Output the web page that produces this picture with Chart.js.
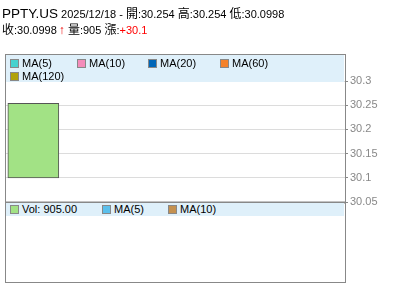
<!DOCTYPE html>
<html><head><meta charset="utf-8">
<script src="https://cdn.jsdelivr.net/npm/chart.js@4"></script>
<style>
html,body{margin:0;padding:0;background:#fff;}
body{width:400px;height:301px;position:relative;overflow:hidden;font-family:"Liberation Sans",Arial,sans-serif;}
canvas{position:absolute;left:0;top:0;}
.t{position:absolute;left:2px;white-space:nowrap;color:#000;font-size:11px;}
.cjk{font-family:"Noto Sans CJK TC","Liberation Sans",sans-serif;font-size:12px;}
.leg{position:absolute;left:6px;width:338px;background:#dff0fa;font-size:11px;color:#000;}
.item{position:absolute;height:13px;line-height:13px;white-space:nowrap;}
.box{display:inline-block;width:7px;height:7px;border:1px solid #888;vertical-align:-1px;margin-right:3px;}
</style></head>
<body>
<canvas id="c" width="400" height="301"></canvas>
<div class="t" id="l1" style="top:4px"></div>
<div class="t" id="l2" style="top:20px"></div>
<div class="leg" id="mainLeg" style="top:55px;height:27px"></div>
<div class="leg" id="volLeg" style="top:203px;height:13px"></div>
<script>
const symbol = 'PPTY.US';
const dates = ['2025/12/18'];
const openVals = [30.254];
const highVals = [30.254];
const lowVals = [30.0998];
const closeVals = [30.0998];
const volumes = [905];
const change = '+30.1';
const yTicks = [30.05, 30.1, 30.15, 30.2, 30.25, 30.3];
const maLabels = ['MA(5)', 'MA(10)', 'MA(20)', 'MA(60)', 'MA(120)'];
const maColors = ['#46d2cf', '#f48cba', '#0066b8', '#f5822a', '#b0a20a'];
const volLabels = ['Vol: 905.00', 'MA(5)', 'MA(10)'];
const volColors = ['#a2e285', '#5bc0ec', '#c49150'];

const f = v => String(v);
document.getElementById('l1').innerHTML =
  '<span style="font-size:13.5px">' + symbol + '</span> ' + dates[0] + ' - <span class="cjk">開</span>:' + f(openVals[0]) +
  ' <span class="cjk">高</span>:' + f(highVals[0]) + ' <span class="cjk">低</span>:' + f(lowVals[0]);
document.getElementById('l2').innerHTML =
  '<span class="cjk">收</span>:' + f(closeVals[0]) + '<span style="color:#e00;font-size:12px;margin:0 0 0 2px">↑</span> <span class="cjk">量</span>:' + volumes[0] +
  ' <span class="cjk">漲</span>:<span style="color:#f00">' + change + '</span>';

const mainPos = [[4,2],[71,2],[142,2],[214,2],[4,15]];
const ml = document.getElementById('mainLeg');
maLabels.forEach((l,i)=>{
  const d=document.createElement('div');d.className='item';
  d.style.left=mainPos[i][0]+'px';d.style.top=mainPos[i][1]+'px';
  d.innerHTML='<span class="box" style="background:'+maColors[i]+'"></span>'+l;
  ml.appendChild(d);
});
const volPos = [4, 96, 162];
const vl = document.getElementById('volLeg');
volLabels.forEach((l,i)=>{
  const d=document.createElement('div');d.className='item';
  d.style.left=volPos[i]+'px';d.style.top='0px';
  d.innerHTML='<span class="box" style="background:'+volColors[i]+'"></span>'+l;
  vl.appendChild(d);
});

const framePlugin = {
  id:'frame',
  afterDraw(chart){
    const a = chart.chartArea, ctx = chart.ctx;
    ctx.save();
    ctx.strokeStyle = '#888';
    ctx.lineWidth = 1;
    ctx.beginPath();
    ctx.moveTo(a.left+0.5, a.top); ctx.lineTo(a.left+0.5, 282.5);
    ctx.moveTo(a.left, a.top+0.5); ctx.lineTo(a.right, a.top+0.5);
    ctx.moveTo(a.right+0.5, a.top); ctx.lineTo(a.right+0.5, 282.5);
    ctx.moveTo(a.left, 282.5); ctx.lineTo(a.right+1, 282.5);
    ctx.stroke();
    ctx.lineWidth = 2;
    ctx.beginPath();
    ctx.moveTo(a.left, a.bottom+0.5); ctx.lineTo(a.right+1, a.bottom+0.5);
    ctx.stroke();
    ctx.restore();
  }
};

new Chart(document.getElementById('c'), {
  type:'bar',
  data:{
    datasets:[{
      data: dates.map((d,i)=>({x:i, y:[lowVals[i], openVals[i]]})),
      backgroundColor:'#a2e285',
      borderColor:'#555',
      borderWidth:1,
      borderSkipped:false,
      barThickness:51
    }]
  },
  options:{
    responsive:false,
    animation:false,
    layout:{padding:{left:5, top:54, bottom:99, right:0}},
    plugins:{legend:{display:false}, tooltip:{enabled:false}},
    scales:{
      x:{type:'linear', min:-0.5, max:5.5, offset:false, display:false},
      y:{
        position:'right', min:30.05, max:30.356,
        afterBuildTicks(s){ s.ticks = yTicks.map(v=>({value:v})); },
        afterFit(s){ s.width = 55; },
        grid:{color:'#dcdcdc', drawTicks:true, tickLength:3, tickColor:'#888'},
        border:{color:'#888'},
        ticks:{color:'#888', font:{family:'"Liberation Sans", Arial, sans-serif', size:11}, padding:2,
          callback:(v)=>String(v)}
      }
    }
  },
  plugins:[framePlugin]
});
</script>
</body></html>
